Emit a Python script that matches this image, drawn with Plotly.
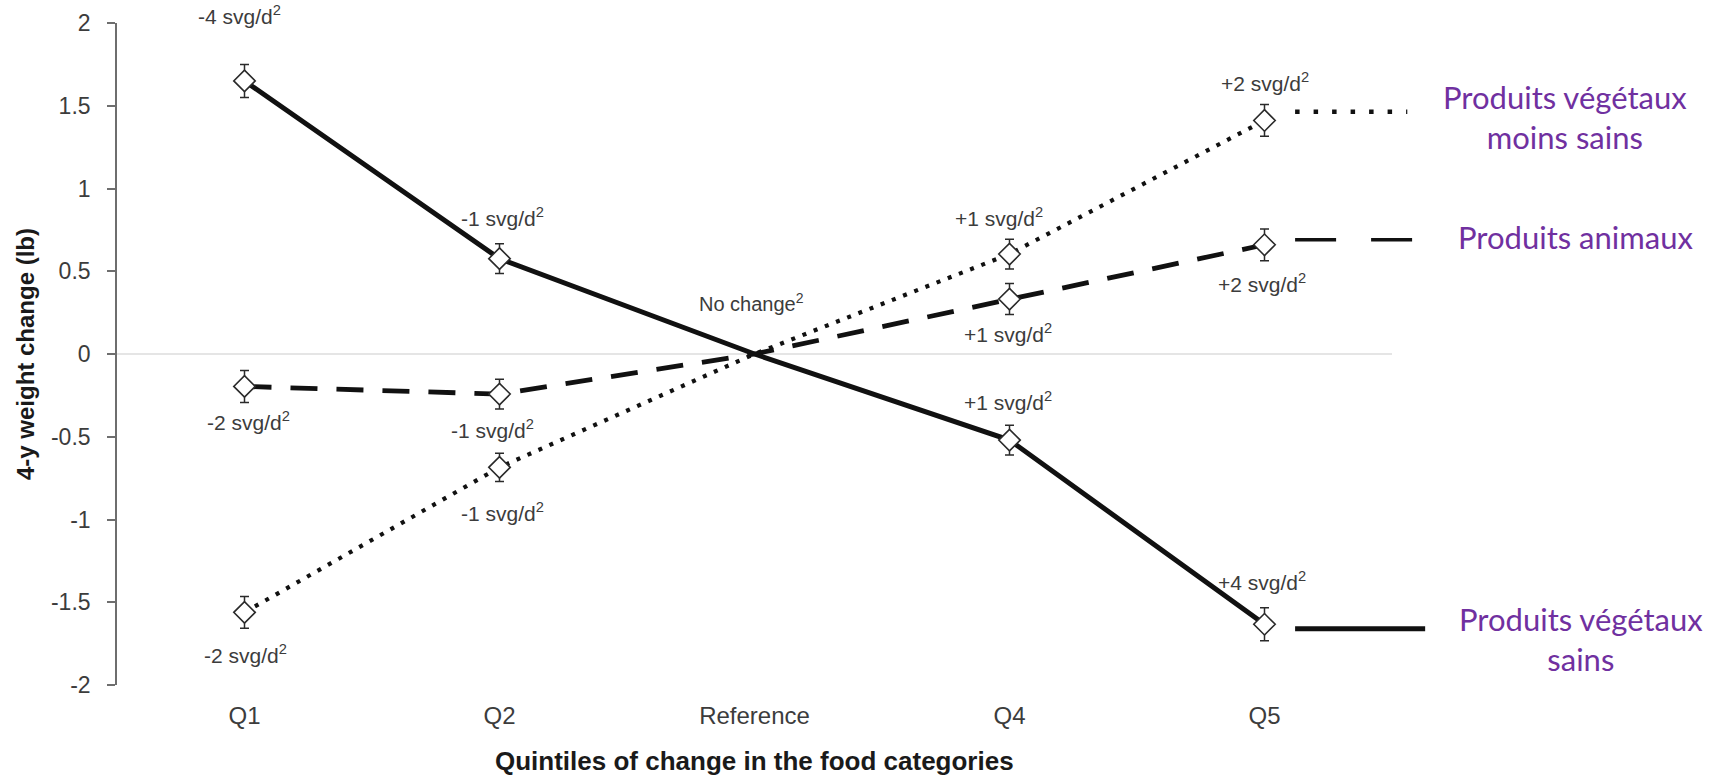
import plotly.graph_objects as go

# Quintile categories along the horizontal axis
categories = ["Q1", "Q2", "Reference", "Q4", "Q5"]

# 4-year weight change (lb) per quintile, with standard errors
healthy_plant = [1.65, 0.576, 0.0, -0.52, -1.633]
healthy_plant_err = [0.10, 0.09, 0.0, 0.09, 0.10]

animal = [-0.196, -0.242, 0.0, 0.332, 0.660]
animal_err = [0.097, 0.09, 0.0, 0.094, 0.096]

less_healthy_plant = [-1.561, -0.685, 0.0, 0.604, 1.411]
less_healthy_plant_err = [0.096, 0.085, 0.0, 0.09, 0.096]

# Change in servings per day for each quintile (None = reference group)
healthy_plant_servings = ["-4", "-1", None, "+1", "+4"]
animal_servings = ["-2", "-1", None, "+1", "+2"]
less_healthy_plant_servings = ["-2", "-1", None, "+1", "+2"]

series_names = ["Produits végétaux<br>sains", "Produits animaux", "Produits végétaux<br>moins sains"]

# y level of each line-style key drawn to the right of Q5
key_levels = [-1.66, 0.69, 1.464]

y_ticks = [2, 1.5, 1, 0.5, 0, -0.5, -1, -1.5, -2]
y_tick_text = ["2", "1.5", "1", "0.5", "0", "-0.5", "-1", "-1.5", "-2"]

AXIS_FONT = "Liberation Sans, Arial, sans-serif"
INK = "#111111"
GREY_TEXT = "#3c3c3c"
PURPLE = "#7030A0"

series = [
    dict(y=healthy_plant, err=healthy_plant_err, servings=healthy_plant_servings,
         dash="solid", width=5, key_dash="solid", key_width=5,
         label_shift=[(-5, 66), (3, 42), None, (-2, 39), (-3, 43)],
         key_x=(4.12, 4.63), name_x=5.24, name_shift=-10),
    dict(y=animal, err=animal_err, servings=animal_servings,
         dash="27px,19px", width=4.8, key_dash="41px,35px", key_width=3.5,
         label_shift=[(4, -35), (-7, -35), None, (-2, -34), (-3, -38)],
         key_x=(4.12, 4.6), name_x=5.22, name_shift=3),
    dict(y=less_healthy_plant, err=less_healthy_plant_err, servings=less_healthy_plant_servings,
         dash="4px,8px", width=4.2, key_dash="4.5px,14px", key_width=4.5,
         label_shift=[(1, -42), (3, -45), None, (-11, 37), (0, 38)],
         key_x=(4.12, 4.56), name_x=5.18, name_shift=-5),
]

x_idx = list(range(len(categories)))
fig = go.Figure()

# connecting lines (pass through the reference point at 0)
for s in series:
    fig.add_trace(go.Scatter(
        x=x_idx, y=s["y"], mode="lines",
        line=dict(color=INK, width=s["width"], dash=s["dash"]),
        hoverinfo="skip", showlegend=False,
    ))

# line-style keys to the right of the last quintile
for s, lvl in zip(series, key_levels):
    fig.add_trace(go.Scatter(
        x=list(s["key_x"]), y=[lvl, lvl], mode="lines",
        line=dict(color=INK, width=s["key_width"], dash=s["key_dash"]),
        hoverinfo="skip", showlegend=False,
    ))

# open diamonds with error bars (no marker at the reference group)
for s in series:
    pts = [i for i, v in enumerate(s["servings"]) if v is not None]
    fig.add_trace(go.Scatter(
        x=pts, y=[s["y"][i] for i in pts], mode="markers",
        marker=dict(symbol="diamond", size=16.5, color="white",
                    line=dict(color="#2a2a2a", width=1.6)),
        error_y=dict(type="data", array=[s["err"][i] for i in pts],
                     color="#2a2a2a", thickness=1.5, width=4.5),
        showlegend=False,
    ))

annotations = []
for s in series:
    for i, sv in enumerate(s["servings"]):
        if sv is None:
            continue
        dx, dy = s["label_shift"][i]
        annotations.append(dict(
            x=i, y=s["y"][i], xref="x", yref="y",
            text=f"{sv} svg/d<sup>2</sup>", showarrow=False,
            xshift=dx, yshift=dy,
            font=dict(family=AXIS_FONT, size=21, color=GREY_TEXT),
        ))

annotations.append(dict(
    x=2, y=0, xref="x", yref="y", text="No change<sup>2</sup>", showarrow=False,
    xshift=-3, yshift=52, font=dict(family=AXIS_FONT, size=20, color=GREY_TEXT),
))

for s, lvl, name in zip(series, key_levels, series_names):
    annotations.append(dict(
        x=s["name_x"], y=lvl, xref="x", yref="y", text=name, showarrow=False,
        yshift=s["name_shift"], align="center",
        font=dict(family="Lato, Carlito, Calibri, sans-serif", size=31, color=PURPLE),
    ))

# horizontal axis title, centred under the quintile columns
annotations.append(dict(
    x=2, y=-0.115, xref="x", yref="paper", yanchor="middle",
    text="<b>Quintiles of change in the food categories</b>", showarrow=False,
    font=dict(family=AXIS_FONT, size=26, color="#1a1a1a"),
))

fig.update_layout(
    width=1709, height=779,
    margin=dict(l=117, r=11, t=23, b=94),
    paper_bgcolor="white", plot_bgcolor="white",
    showlegend=False,
    annotations=annotations,
    shapes=[dict(type="line", xref="x", yref="y", x0=-0.5, x1=4.5, y0=0, y1=0,
                 line=dict(color="#dcdcdc", width=1.6), layer="below")],
    xaxis=dict(
        range=[-0.5, 5.7], tickvals=x_idx, ticktext=categories,
        showgrid=False, zeroline=False, showline=False, ticks="",
        ticklabelstandoff=14,
        tickfont=dict(family=AXIS_FONT, size=24, color=GREY_TEXT),
    ),
    yaxis=dict(
        range=[-2, 2], tickvals=y_ticks, ticktext=y_tick_text,
        showgrid=False, zeroline=False, showline=True, linecolor="#6e6e6e", linewidth=1.6,
        ticks="outside", ticklen=8, tickwidth=1.6, tickcolor="#6e6e6e",
        ticklabelstandoff=12,
        tickfont=dict(family=AXIS_FONT, size=23, color=GREY_TEXT),
        title=dict(text="<b>4-y weight change (lb)</b>",
                   font=dict(family=AXIS_FONT, size=24, color="#1a1a1a"), standoff=10),
    ),
)

fig.write_html("out.html")
